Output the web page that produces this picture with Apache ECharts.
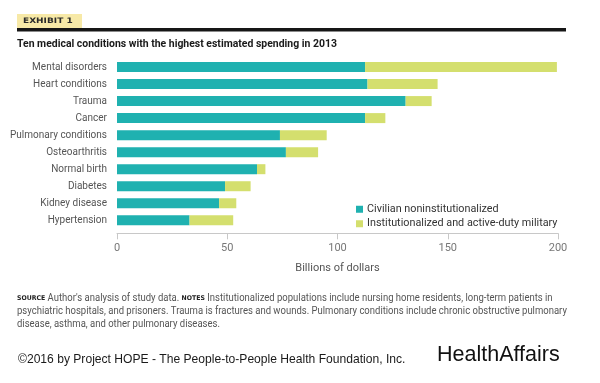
<!DOCTYPE html>
<html>
<head>
<meta charset="utf-8">
<script src="https://cdn.jsdelivr.net/npm/echarts@6/dist/echarts.min.js"></script>
<style>
html,body{margin:0;padding:0;background:#fff;}
#chart{width:600px;height:383px;}
</style>
</head>
<body>
<div id="chart"></div>
<script>
const categories = ['Mental disorders','Heart conditions','Trauma','Cancer','Pulmonary conditions','Osteoarthritis','Normal birth','Diabetes','Kidney disease','Hypertension'];
const civilian = [112.5, 113.6, 130.9, 112.5, 73.9, 76.6, 63.5, 49.0, 46.3, 32.9];
const institutional = [87.0, 31.8, 11.8, 9.2, 21.2, 14.6, 3.8, 11.6, 7.8, 19.8];
const seriesNames = ['Civilian noninstitutionalized', 'Institutionalized and active-duty military'];
const xTicks = [0, 50, 100, 150, 200];
const exhibitLabel = 'EXHIBIT 1';
const titleText = 'Ten medical conditions with the highest estimated spending in 2013';
const axisName = 'Billions of dollars';
const noteLines = [
  ['SOURCE', " Author's analysis of study data. ", 'NOTES', ' Institutionalized populations include nursing home residents, long-term patients in'],
  ['', 'psychiatric hospitals, and prisoners. Trauma is fractures and wounds. Pulmonary conditions include chronic obstructive pulmonary', '', ''],
  ['', 'disease, asthma, and other pulmonary diseases.', '', '']
];
const copyrightText = '\u00A92016 by Project HOPE - The People-to-People Health Foundation, Inc.';
const brandText = 'HealthAffairs';

const NARROW = "Roboto, sans-serif";
const TEAL = '#1fb1b0';
const LIME = '#d4df6e';

const chart = echarts.init(document.getElementById('chart'), null, {renderer: 'canvas'});

function noteRich(line) {
  let s = '';
  if (line[0]) s += '{b|' + line[0] + '}';
  if (line[1]) s += '{t|' + line[1] + '}';
  if (line[2]) s += '{b|' + line[2] + '}';
  if (line[3]) s += '{t|' + line[3] + '}';
  return s;
}

const option = {
  animation: false,
  backgroundColor: '#ffffff',
  grid: {left: 117, right: 42, top: 58.5, height: 170.3, containLabel: false},
  legend: {
    orient: 'vertical',
    left: 351,
    top: 198,
    itemWidth: 7,
    itemHeight: 7,
    itemGap: 2,
    icon: 'rect',
    data: seriesNames,
    textStyle: {fontFamily: NARROW, fontSize: 10.8, color: '#333', lineHeight: 12.5, padding: [0,0,0,-1]}
  },
  xAxis: {
    type: 'value',
    min: xTicks[0],
    max: xTicks[xTicks.length - 1],
    interval: 50,
    offset: 4.5,
    name: axisName,
    nameLocation: 'middle',
    nameGap: 29,
    nameTextStyle: {fontFamily: NARROW, fontSize: 11, color: '#555'},
    axisLine: {show: true, lineStyle: {color: '#c8c8c8', width: 1}},
    axisTick: {show: true, length: 6, lineStyle: {color: '#c8c8c8'}},
    axisLabel: {fontFamily: NARROW, fontSize: 11, color: '#777', margin: 9},
    splitLine: {show: false}
  },
  yAxis: {
    type: 'category',
    inverse: true,
    data: categories,
    axisLine: {show: false},
    axisTick: {show: false},
    axisLabel: {fontFamily: NARROW, fontSize: 10, color: '#555', margin: 10}
  },
  series: [
    {name: seriesNames[0], type: 'bar', stack: 'total', data: civilian, barWidth: 10, itemStyle: {color: TEAL}},
    {name: seriesNames[1], type: 'bar', stack: 'total', data: institutional, barWidth: 10, itemStyle: {color: LIME}}
  ],
  graphic: [
    {type: 'rect', shape: {x: 17, y: 14, width: 65, height: 14.5}, style: {fill: '#f7e9a7'}},
    {type: 'text', x: 23, y: 21.5, scaleX: 1.2, style: {text: exhibitLabel, fontFamily: "'DejaVu Sans', sans-serif", fontWeight: 'bold', fontSize: 7.5, fill: '#2a2a2a', verticalAlign: 'middle'}},
    {type: 'rect', shape: {x: 17, y: 28, width: 549, height: 3.5}, style: {fill: '#161616'}},
    {type: 'text', x: 17, y: 44, scaleX: 0.95, style: {text: titleText, fontFamily: NARROW, fontWeight: 'bold', fontSize: 11, fill: '#1a1a1a', verticalAlign: 'middle'}},
    {type: 'text', x: 17, y: 292, scaleX: 0.95, style: {
      text: noteLines.map(noteRich).join('\n'),
      fontFamily: NARROW, fontSize: 10, fill: '#555', lineHeight: 13, verticalAlign: 'top',
      rich: {
        b: {fontFamily: "'DejaVu Sans', sans-serif", fontWeight: 'bold', fontSize: 6.5, fill: '#222', lineHeight: 13},
        t: {fontFamily: NARROW, fontSize: 10, fill: '#555', lineHeight: 13}
      }
    }},
    {type: 'text', x: 18, y: 360, style: {text: copyrightText, fontFamily: "'Liberation Sans', Arial, sans-serif", fontSize: 12.1, fill: '#1a1a1a', verticalAlign: 'middle'}},
    {type: 'text', x: 437, y: 355, style: {text: brandText, fontFamily: "'Liberation Sans', Arial, sans-serif", fontSize: 21.5, fill: '#111', verticalAlign: 'middle'}}
  ]
};
chart.setOption(option);
</script>
</body>
</html>
